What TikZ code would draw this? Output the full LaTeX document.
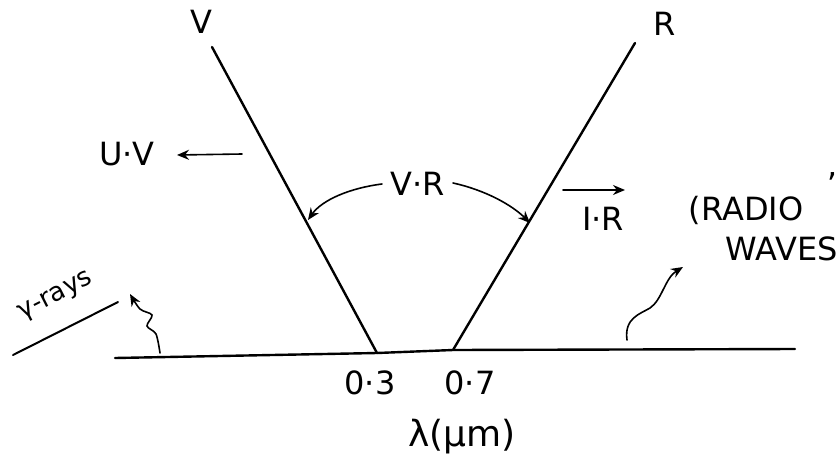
\documentclass[tikz,border=0pt]{standalone}
\usepackage{fontspec}
\setmainfont{DejaVu Sans}
\usetikzlibrary{arrows.meta}
\begin{document}
\begin{tikzpicture}[x=1pt,y=-1pt,
  ray/.style={line width=2.4pt, line cap=round},
  lbl/.style={font=\fontsize{32}{36}\selectfont, inner sep=0pt},
  arr/.style={line width=1.6pt, line cap=round, -{Stealth[length=12pt,width=10pt]}},
]
\useasboundingbox (0,0) rectangle (838,461);
% axis and the two lines
\coordinate (b0) at (115,358);
\coordinate (vb) at (377,353);
\coordinate (rb) at (453,350);
\coordinate (b1) at (795,349);
\coordinate (vt) at (212,47);
\coordinate (rt) at (635,43);
\draw[ray] (b0) -- (vb) -- (rb) -- (b1);
\draw[ray] (vt) -- (vb);
\draw[ray] (rt) -- (rb);
% labels
\node[lbl] (V) at (201,22) {V};
\node[lbl] (R) at (665,24) {R};
\node[lbl] (UV) at (127,154) {U·V};
\node[lbl] (VR) at (418,184) {V·R};
\node[lbl] (IR) at (603,219) {I·R};
\node[lbl] (RADIO) at (746,210) {(RADIO};
\node[lbl] (WAVES) at (782,249) {WAVES};
\node[lbl] (comma) at (833,176) {,};
\node[lbl] (n3) at (370,383) {0·3};
\node[lbl] (n7) at (470,383) {0·7};
\node[lbl, font=\fontsize{36}{40}\selectfont] (lam) at (462,437) {λ(μm)};
\node[lbl, font=\fontsize{26}{30}\selectfont, rotate=27] (gam) at (56,297) {γ-rays};
\coordinate (u0) at (13,355);
\coordinate (u1) at (118,302);
\draw[line width=2pt, line cap=round] (u0) -- (u1);
% arrows
\coordinate (uvs) at (242,154);
\coordinate (uve) at (177,155);
\draw[arr] (uvs) -- (uve);
\coordinate (las) at (382,184);
\coordinate (lae) at (308,220);
\draw[arr] (las) .. controls (350,188) and (322,200) .. (lae);
\coordinate (ras) at (453,183);
\coordinate (rae) at (530,223);
\draw[arr] (ras) .. controls (485,190) and (512,205) .. (rae);
\coordinate (irs) at (563,190);
\coordinate (ire) at (625,190);
\draw[arr] (irs) -- (ire);
\coordinate (rws) at (627,340);
\coordinate (rwe) at (683,267);
\draw[arr] (rws) .. controls (624,318) and (640,314) .. (650,308) .. controls (662,300) and (665,278) .. (rwe);
\draw[arr] plot[smooth] coordinates {(160,353) (156,334) (147,326) (152,315) (140,309) (130,294)};
\end{tikzpicture}
\end{document}
